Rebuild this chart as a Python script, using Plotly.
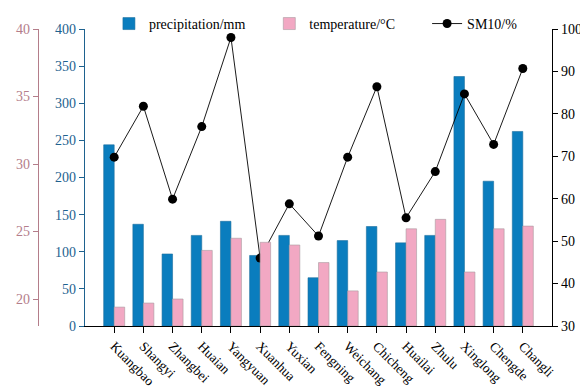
import plotly.graph_objects as go

stations = ["Kuangbao", "Shangyi", "Zhangbei", "Huaian", "Yangyuan", "Xuanhua", "Yuxian",
            "Fengning", "Weichang", "Chicheng", "Huailai", "Zhulu", "Xinglong", "Chengde", "Changli"]
precipitation = [244, 137, 97, 122, 141, 95, 122, 65, 115, 134, 112, 122, 336, 195, 262]
temperature = [19.4, 19.7, 20.0, 23.6, 24.5, 24.2, 24.0, 22.7, 20.6, 22.0, 25.2, 25.9, 22.0, 25.2, 25.4]
sm10 = [69.8, 81.8, 59.9, 77.0, 98.0, 46.0, 58.8, 51.2, 69.8, 86.4, 55.5, 66.4, 84.7, 72.8, 90.7]

FONT = "Liberation Serif, Times New Roman, serif"
BLUE = "#0A7DBE"
PINK = "#F2A8C3"
BLUE_AX = "#1E628F"
PINK_AX = "#B47D8A"
T_BASE = 18

fig = go.Figure()
fig.add_trace(go.Bar(x=stations, y=precipitation, name="precipitation/mm", yaxis="y",
                     width=0.36, offset=-0.36, legend="legend",
                     marker=dict(color=BLUE, line=dict(color="#1D6E9E", width=0.6))))
fig.add_trace(go.Bar(x=stations, y=[t - T_BASE for t in temperature], base=T_BASE,
                     name="temperature/°C", yaxis="y3", legend="legend2",
                     width=0.36, offset=0.0,
                     marker=dict(color=PINK, line=dict(color="#A89AA0", width=0.6))))
fig.add_trace(go.Scatter(x=stations, y=sm10, name="SM10/%", yaxis="y2", mode="lines+markers",
                         legend="legend3",
                         line=dict(color="black", width=0.9),
                         marker=dict(color="black", size=9)))

leg = dict(orientation="h", y=1.017, yanchor="middle", xanchor="left",
           font=dict(family=FONT, size=14, color="black"),
           bgcolor="rgba(0,0,0,0)", itemwidth=30)

fig.update_layout(
    width=580, height=381,
    margin=dict(l=30, r=36, t=21, b=63, autoexpand=False),
    paper_bgcolor="white", plot_bgcolor="white",
    font=dict(family=FONT, size=14, color="black"),
    barmode="overlay",
    showlegend=True,
    legend=dict(leg, x=0.138),
    legend2=dict(leg, x=0.45),
    legend3=dict(leg, x=0.757),
    xaxis=dict(domain=[47/514, 1.0], type="category", range=[-1, 15],
               showline=True, linecolor="black", linewidth=1.2,
               ticks="outside", ticklen=6, tickcolor="black",
               tickangle=45, tickfont=dict(family=FONT, size=13.5, color="black"),
               showgrid=False, zeroline=False),
    yaxis=dict(range=[0, 400], dtick=50, side="left",
               showline=True, linecolor=BLUE_AX, linewidth=1.2,
               ticks="outside", ticklen=5, tickcolor=BLUE_AX,
               tickfont=dict(family=FONT, size=14, color=BLUE_AX),
               showgrid=False, zeroline=False),
    yaxis2=dict(range=[30, 100], dtick=10, side="right", overlaying="y", anchor="x",
                showline=True, linecolor="black", linewidth=1.2,
                ticks="outside", ticklen=5, tickcolor="black",
                tickfont=dict(family=FONT, size=14, color="black"),
                showgrid=False, zeroline=False),
    yaxis3=dict(range=[18, 40], tickvals=[20, 25, 30, 35, 40], side="left",
                overlaying="y", anchor="free", position=0,
                showline=True, linecolor=PINK_AX, linewidth=1.2,
                ticks="outside", ticklen=5, tickcolor=PINK_AX,
                tickfont=dict(family=FONT, size=14, color=PINK_AX),
                showgrid=False, zeroline=False),
)

fig.write_html("out.html")
